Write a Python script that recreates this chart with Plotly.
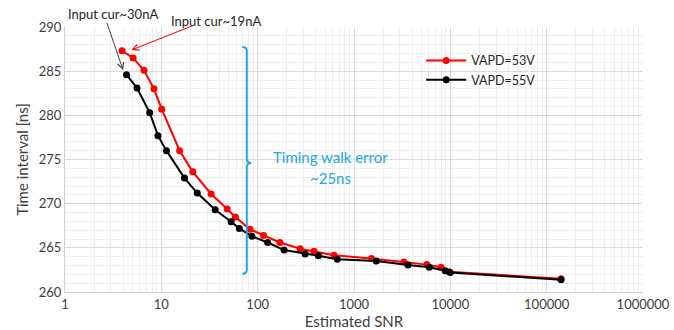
import plotly.graph_objects as go

# ---- data ----
snr_53 = [3.91, 5.09, 6.61, 8.38, 10.1, 15.5, 21.2, 32.9, 48.2, 58.7, 83.2, 115, 170, 276, 385, 620,
          1520, 3300, 5700, 8000, 9700, 141000]
t_53 = [287.3, 286.5, 285.1, 283.0, 280.7, 276.0, 273.6, 271.1, 269.4, 268.5, 267.1, 266.4, 265.6,
        264.9, 264.6, 264.15, 263.8, 263.4, 263.1, 262.8, 262.3, 261.5]
snr_55 = [4.35, 5.59, 7.57, 9.22, 11.3, 17.4, 23.6, 36.2, 53, 64.5, 87.3, 127, 188, 311, 427, 670,
          1700, 3640, 6050, 8860, 9980, 141000]
t_55 = [284.6, 283.1, 280.3, 277.7, 276.0, 272.9, 271.2, 269.3, 267.95, 267.2, 266.3, 265.6, 264.75,
        264.3, 264.1, 263.7, 263.5, 263.05, 262.8, 262.4, 262.2, 261.4]
series_names = ["VAPD=53V", "VAPD=55V"]
x_ticks = [1, 10, 100, 1000, 10000, 100000, 1000000]
x_tick_labels = ["1", "10", "100", "1000", "10000", "100000", "1000000"]
y_ticks = [260, 265, 270, 275, 280, 285, 290]

FONT = "Lato"
TXT = "#404040"
BLUE = "#22a7e0"

# plot area in pixels (for placing text annotations)
PL, PR, PT, PB = 65, 642.7, 27, 292.3
W, H = 674, 330


def px2paper(px, py):
    return (px - PL) / (PR - PL), 1 - (py - PT) / (PB - PT)


fig = go.Figure()
fig.add_trace(go.Scatter(x=snr_53, y=t_53, mode="lines+markers", name=series_names[0],
                         line=dict(color="#ff0000", width=2), marker=dict(color="#ff0000", size=7)))
fig.add_trace(go.Scatter(x=snr_55, y=t_55, mode="lines+markers", name=series_names[1],
                         line=dict(color="#000000", width=2), marker=dict(color="#000000", size=7)))

# brace (data coords)
xl, xc, xn = 69.3, 77.1, 85.9
yt, ym, yb = 287.74, 274.6, 262.08
d = 0.45
path = (f"M {xl},{yt} Q {xc},{yt} {xc},{yt-d} L {xc},{ym+d} Q {xc},{ym} {xn},{ym} "
        f"Q {xc},{ym} {xc},{ym-d} L {xc},{yb+d} Q {xc},{yb} {xl},{yb}")
fig.add_shape(type="path", path=path, xref="x", yref="y", line=dict(color=BLUE, width=2))

# arrows
fig.add_annotation(x=0.603, y=285.13, xref="x", yref="y", text="", showarrow=True, ax=-16.6, ay=-48.3,
                   arrowhead=5, arrowsize=1.2, arrowwidth=1, arrowcolor="#404040")
fig.add_annotation(x=0.690, y=287.4, xref="x", yref="y", text="", showarrow=True, ax=63, ay=-25,
                   arrowhead=5, arrowsize=1.2, arrowwidth=1, arrowcolor="#ff0000")

# text labels
for txt, (cx, cy) in [("Input cur~30nA", (113, 14)), ("Input cur~19nA", (216, 21))]:
    x, y = px2paper(cx, cy)
    fig.add_annotation(x=x, y=y, xref="paper", yref="paper", xanchor="center", yanchor="middle",
                       text=txt, showarrow=False,
                       font=dict(family=FONT, size=13, color="#262626"))

fig.add_annotation(x=2.758, y=275.24, xref="x", yref="y", text="Timing walk error", showarrow=False,
                   font=dict(family=FONT, size=15, color=BLUE))
fig.add_annotation(x=2.758, y=272.87, xref="x", yref="y", text="~25ns", showarrow=False,
                   font=dict(family=FONT, size=15, color=BLUE))

lx, ly = px2paper(421, 46)
fig.update_layout(
    width=W, height=H,
    margin=dict(l=PL, r=W - PR, t=PT, b=H - PB, autoexpand=False),
    paper_bgcolor="white", plot_bgcolor="white",
    font=dict(family=FONT, size=13, color=TXT),
    showlegend=True,
    legend=dict(x=lx, y=ly, xanchor="left", yanchor="top", bgcolor="rgba(0,0,0,0)",
                font=dict(family=FONT, size=12.5, color="#262626"), itemwidth=40,
                tracegroupgap=0),
    xaxis=dict(type="log", range=[0, 6], tickvals=x_ticks, ticktext=x_tick_labels,
               showgrid=True, gridcolor="#d9d9d9", gridwidth=1,
               minor=dict(dtick="D1", showgrid=True, gridcolor="#eeeeee", gridwidth=1),
               showline=True, linecolor="#d0d0d0", linewidth=1, ticks="",
               zeroline=False, tickfont=dict(size=13, color=TXT),
               title=dict(text="Estimated SNR", font=dict(size=15, color=TXT), standoff=0)),
    yaxis=dict(range=[260, 290], tickvals=y_ticks, showgrid=True, gridcolor="#d9d9d9",
               minor=dict(dtick=1, showgrid=True, gridcolor="#eeeeee", gridwidth=1),
               showline=True, linecolor="#d0d0d0", linewidth=1, ticks="",
               zeroline=False, tickfont=dict(size=13, color=TXT),
               title=dict(text="Time interval [ns]", font=dict(size=15, color=TXT), standoff=6)),
)

fig.write_html("out.html")
